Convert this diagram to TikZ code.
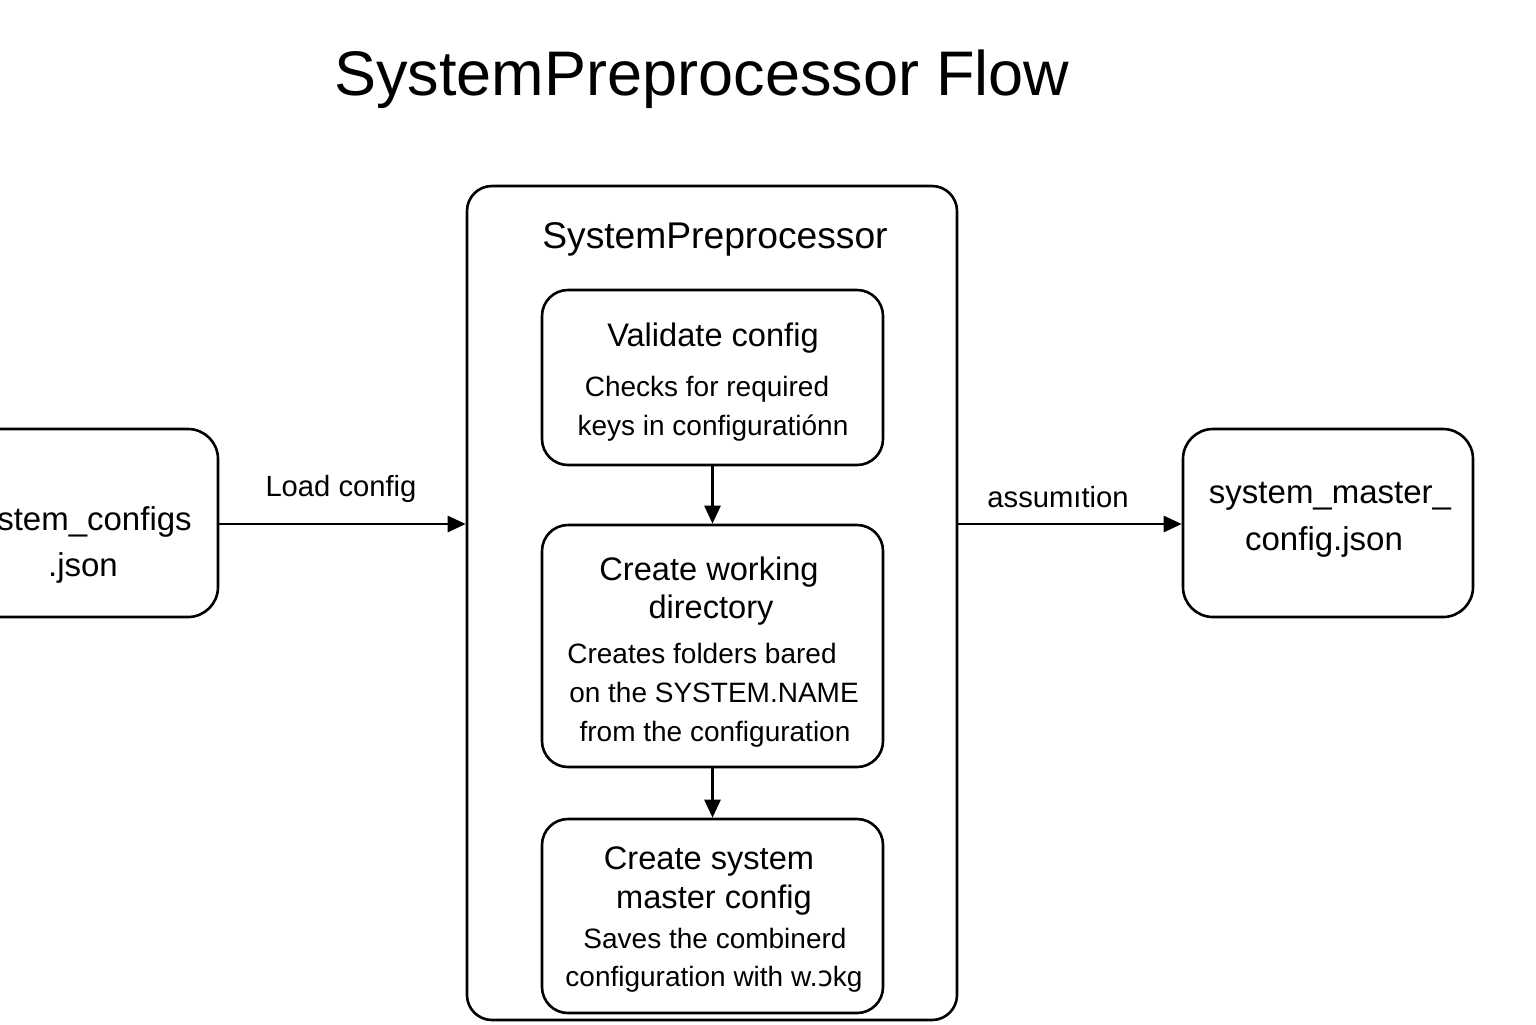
\documentclass[tikz,border=0pt]{standalone}
\usepackage{fontspec}
\setmainfont{Liberation Sans}
\newfontfamily\dejavu{DejaVu Sans}
\usetikzlibrary{arrows.meta}
\tikzset{
  box/.style={draw=black, line width=1.3pt, rounded corners=13pt, fill=white},
  conn/.style={draw=black, line width=1.3pt, -{Triangle[length=9pt,width=8pt]}},
  txt/.style={anchor=base, inner sep=0pt, text=black},
  ttl/.style={txt, font=\fontsize{16.3}{19}\selectfont},
  dsc/.style={txt, font=\fontsize{14}{17}\selectfont},
  lbl/.style={txt, font=\fontsize{14.6}{17}\selectfont},
  side/.style={txt, font=\fontsize{16.5}{19}\selectfont},
}
\begin{document}
\begin{tikzpicture}[x=0.5pt, y=-0.5pt]
\useasboundingbox (0,0) rectangle (1536,1024);
\fill[white] (0,0) rectangle (1536,1024);

% title
\node[txt, font=\fontsize{31.5}{36}\selectfont] (title) at (702,95) {SystemPreprocessor Flow};

% boxes
\node[box, minimum width=141pt, minimum height=94pt, rounded corners=15pt] (src) at (77,523) {};
\node[box, minimum width=245pt, minimum height=417pt, rounded corners=12.5pt] (sp) at (712,603) {};
\node[box, minimum width=170.5pt, minimum height=87.5pt] (val) at (712.5,377.5) {};
\node[box, minimum width=170.5pt, minimum height=121pt] (work) at (712.5,646) {};
\node[box, minimum width=170.5pt, minimum height=97pt] (mast) at (712.5,916) {};
\node[box, minimum width=145pt, minimum height=94pt, rounded corners=15pt] (dst) at (1328,523) {};

% container title
\node[txt, font=\fontsize{18.6}{22}\selectfont] (sptitle) at (715,248) {SystemPreprocessor};

% validate
\node[ttl] (valt) at (713,346) {Validate config};
\node[dsc] (vald1) at (707,396) {Checks for required};
\node[dsc] (vald2) at (713,435) {keys in configuratiónn};

% working dir
\node[ttl] (workt1) at (709,580) {Create working};
\node[ttl] (workt2) at (711,618) {directory};
\node[dsc] (workd1) at (702,663) {Creates folders bared};
\node[dsc] (workd2) at (714,702) {on the SYSTEM.NAME};
\node[dsc] (workd3) at (715,741) {from the configuration};

% master config
\node[ttl] (mastt1) at (709,869) {Create system};
\node[ttl] (mastt2) at (714,908) {master config};
\node[dsc] (mastd1) at (715,948) {Saves the combinerd};
\node[dsc] (mastd2) at (714,986) {configuration with w.{\dejavu ɔ}kg};

% side labels
\node[side] (srct1) at (78,530) {system\_configs};
\node[side] (srct2) at (83,576) {.json};
\node[side] (dstt1) at (1330,503) {system\_master\_};
\node[side] (dstt2) at (1324,550) {config.json};

% connectors
\draw[conn] (src.east |- 0,524) -- (sp.west |- 0,524);
\draw[conn] (sp.east |- 0,524) -- (dst.west |- 0,524);
\draw[conn] (val.south) -- (work.north);
\draw[conn] (work.south) -- (mast.north);

% arrow labels
\node[lbl] (load) at (341,496) {Load config};
\node[lbl] (assum) at (1058,507) {assumıtion};
\end{tikzpicture}
\end{document}
